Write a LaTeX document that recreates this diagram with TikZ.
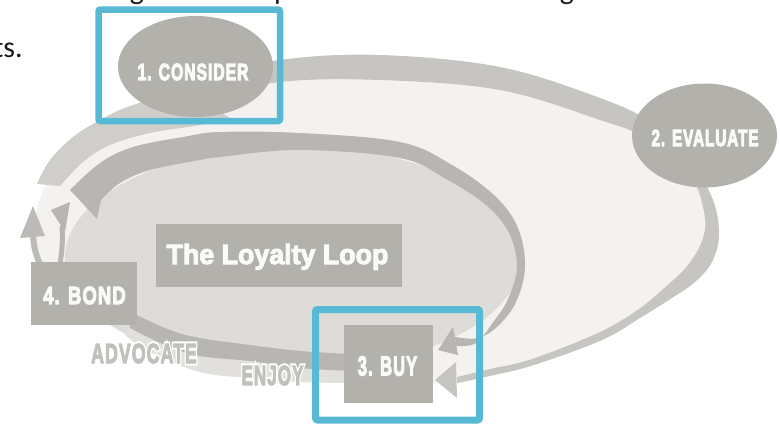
\documentclass[tikz,border=0pt]{standalone}
\usepackage{fontspec}
\usepackage{graphicx}
\setmainfont{Liberation Sans}
\newfontfamily\slidefont{Carlito}
\newfontfamily\stagefont{Liberation Sans}[LetterSpace=6]
\usetikzlibrary{shapes.geometric}

\definecolor{outerfill}{HTML}{F3F2F0}
\definecolor{innerfill}{HTML}{DEDCD9}
\definecolor{ringband}{HTML}{C7C5C1}
\definecolor{ringpale}{HTML}{D0CECA}
\definecolor{ribbon}{HTML}{B8B6B2}
\definecolor{shadowband}{HTML}{E2E0DD}
\definecolor{stage}{HTML}{B3B1AC}
\definecolor{stagewhite}{HTML}{FAFAF8}
\definecolor{verbgray}{HTML}{C2C0BC}
\definecolor{frameblue}{HTML}{57B9D3}
\definecolor{ink}{HTML}{1A1A1A}

% horizontally squeezed label
\newcommand{\squeeze}[2]{\scalebox{#1}[1]{#2}}
% letters filled and outlined in their own colour, #1 = outline width
\newcommand{\heavy}[2]{\special{pdf:literal direct #1 w 2 Tr}#2\special{pdf:literal direct 0 Tr 0.4 w}}

\begin{document}
\begin{tikzpicture}[x=1pt,y=-1pt,
  stagebox/.style={rectangle, fill=stage, inner sep=0pt},
  stageoval/.style={ellipse, fill=stage, inner sep=0pt},
  stagetext/.style={text=stagewhite, inner sep=0pt, font=\stagefont\bfseries\fontsize{#1}{#1}\selectfont},
  titletext/.style={text=stagewhite, inner sep=0pt, font=\bfseries\fontsize{27.9}{27.9}\selectfont},
  verbtext/.style={inner sep=0pt, text=verbgray, font=\stagefont\bfseries\fontsize{27.7}{27.7}\selectfont},
  slidetext/.style={text=ink, inner sep=0pt, font=\slidefont\fontsize{30}{36}\selectfont},
  frame/.style={draw=frameblue, line width=6.5pt, rounded corners=2pt, inner sep=0pt},
]
\useasboundingbox (0,0) rectangle (780,424);
\clip (0,0) rectangle (780,424);
\fill[white] (0,0) rectangle (780,424);

% surrounding slide text
\node[slidetext, anchor=base] (topg) at (137,-1) {g};
\node[slidetext, anchor=base] (topp) at (282,-1) {p};
\node[slidetext, anchor=base] (topgg) at (567,-1) {g};
\node[slidetext, anchor=base east] (tsword) at (23,57) {ts.};

% area enclosed by the outer journey ring
\fill[outerfill] plot[smooth cycle, tension=0.6] coordinates {
  (36,215) (55,172) (100,130) (170,106) (280,70) (380,67) (500,78) (600,108)
  (690,170) (710,220) (700,258) (665,293) (600,337) (532,362) (457,380)
  (400,386) (344,380) (300,376) (200,364) (137,334) (80,310) (40,272)};

% outer ring, left part (rises from the bond stage toward consider)
\fill[ringpale] plot[smooth, tension=0.6] coordinates {
  (37,184) (50,160) (73,137) (100,120) (130,106) (185,90)}
  -- plot[smooth, tension=0.6] coordinates {
  (230,118) (200,125) (150,133) (110,145) (83,162) (60,186)} -- cycle;

% outer ring, consider -> evaluate -> buy
\fill[ringband] plot[smooth, tension=0.6] coordinates {
  (200,80) (280,60) (380,55) (500,67) (600,98) (650,122) (690,160) (713,200)
  (719,235) (712,262) (695,282) (672,298) (640,318) (602,340) (534,365)
  (490,376) (457,383)}
  -- plot[smooth, tension=0.6] coordinates {
  (457,377) (490,369) (532,359) (598,333) (636,311) (662,290) (688,265)
  (703,238) (704,212) (690,176) (645,138) (600,120) (500,90) (380,80)
  (280,82) (200,100)} -- cycle;
\fill[ringband] (435,380) -- (456,362) -- (457,398) -- cycle;

% area enclosed by the loyalty loop
\fill[innerfill] (293,258) ellipse[x radius=228, y radius=112];

% loyalty loop ribbon, top and right side, into buy
\fill[ribbon] plot[smooth, tension=0.6] coordinates {
  (70,190) (100,163) (133,147) (183,137) (220,132) (300,133) (400,142)
  (452,165) (495,196) (518,228) (525,267) (516,302) (498,326) (478,338) (455,337)}
  -- plot[smooth, tension=0.6] coordinates {
  (456,346) (476,343) (494,321) (508,299) (517,267) (509,233) (486,205) (446,179)
  (400,158) (300,150) (220,157) (200,160) (150,170) (120,183) (101,200)}
  -- (97,219) -- cycle;
\fill[ribbon] (438,350) -- (453,327) -- (458,355) -- cycle;

% band from buy back to bond (enjoy, advocate)
\fill[shadowband] plot[smooth, tension=0.6] coordinates {
  (130,326) (165,345) (200,356) (250,361) (300,368) (350,371)}
  -- plot[smooth, tension=0.6] coordinates {
  (350,383) (300,382) (250,378) (200,372) (150,352) (125,335)} -- cycle;
\fill[ribbon] plot[smooth, tension=0.6] coordinates {
  (130,312) (170,330) (200,338) (250,345) (300,351) (350,354)}
  -- plot[smooth, tension=0.6] coordinates {
  (350,371) (300,368) (250,361) (200,356) (165,345) (130,328)} -- cycle;

% arrows leaving bond upward
\draw[ringband!95!black, line width=6pt] (40,264) to[bend left=10] (33,235);
\fill[ringband!95!black] (33,206) -- (20,238) -- (45,236) -- cycle;
\draw[ribbon, line width=5pt] (60,264) to[bend right=6] (62,226);
\fill[ribbon] (70,202) -- (51,210) -- (65,232) -- cycle;

% stages
\node[stageoval, minimum width=155pt, minimum height=101pt] (consider) at (195.5,66.5) {};
\node[stagetext=23.5] (considerlabel) at (193,72) {\squeeze{0.67}{\heavy{1.2}{1. CONSIDER}}};

\node[stageoval, minimum width=145pt, minimum height=104pt] (evaluate) at (704.5,135.5) {};
\node[stagetext=23.5] (evaluatelabel) at (705,138) {\squeeze{0.65}{\heavy{1.2}{2. EVALUATE}}};

\node[stagebox, minimum width=89pt, minimum height=78pt] (buy) at (388.5,364) {};
\node[stagetext=27.7] (buylabel) at (387.5,366) {\squeeze{0.60}{\heavy{1.2}{3. BUY}}};

\node[stagebox, minimum width=106pt, minimum height=63pt] (bond) at (84,293.5) {};
\node[stagetext=24.9] (bondlabel) at (84.5,295.5) {\squeeze{0.74}{\heavy{1.2}{4. BOND}}};

\node[stagebox, minimum width=246pt, minimum height=63pt] (loop) at (279,255.5) {};
\node[titletext, anchor=base] (looplabel) at (277.5,264) {\squeeze{0.96}{\heavy{1}{The Loyalty Loop}}};

% verbs along the return band, grey letters with a white rim
\node[verbtext, text=white] (advocaterim) at (144,353.5) {\squeeze{0.64}{\heavy{5}{ADVOCATE}}};
\node[verbtext] (advocate) at (144,353.5) {\squeeze{0.64}{\heavy{1.2}{ADVOCATE}}};
\node[verbtext, text=white] (enjoyrim) at (272.5,375.5) {\squeeze{0.616}{\heavy{5}{ENJOY}}};
\node[verbtext] (enjoy) at (272.5,375.5) {\squeeze{0.616}{\heavy{1.2}{ENJOY}}};

% highlight frames
\node[frame, minimum width=181.5pt, minimum height=111.5pt] (considerframe) at (189.25,65.25) {};
\node[frame, line width=7pt, minimum width=164pt, minimum height=110.5pt] (buyframe) at (397.5,364.75) {};
\end{tikzpicture}
\end{document}
